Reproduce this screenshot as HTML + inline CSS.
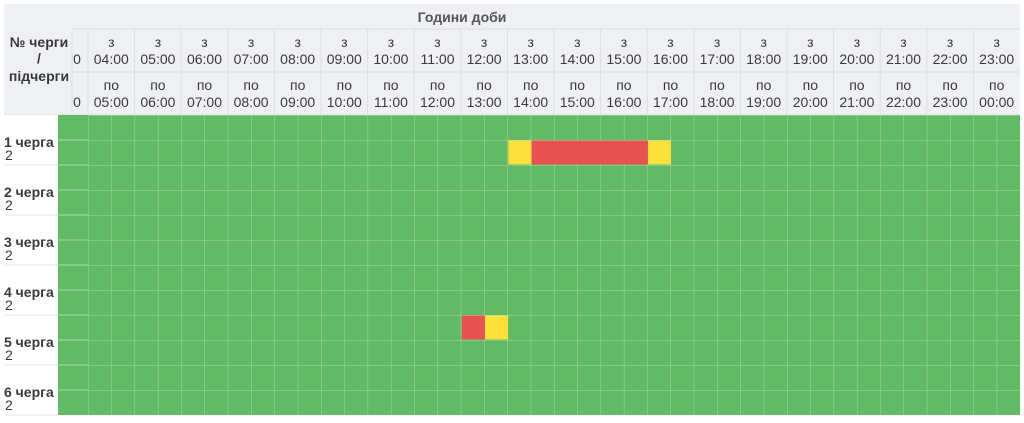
<!DOCTYPE html>
<html><head><meta charset="utf-8"><style>
body{margin:0;background:#fff;width:1024px;height:418px;overflow:hidden}
svg text{font-family:"Liberation Sans","DejaVu Sans",sans-serif;font-size:14px;fill:#3a3a3a}
</style></head><body>
<svg width="1024" height="418" xmlns="http://www.w3.org/2000/svg">
<defs>
<pattern id="g" x="88" y="115" width="23.3" height="25" patternUnits="userSpaceOnUse">
<rect width="23.3" height="25" fill="#62b966"/>
<path d="M0 0V25M0 0H23.3" stroke="#a8dca9" stroke-width="1"/>
</pattern>
</defs>
<rect x="4" y="4" width="1016" height="111" fill="#eff0f3"/>
<g stroke="#dcdee2" stroke-width="1">
<line x1="72" y1="29" x2="1020" y2="29"/>
<line x1="72" y1="72" x2="1020" y2="72"/>
<line x1="4" y1="115" x2="1020" y2="115"/>
</g>
<rect x="4" y="115" width="54" height="300" fill="#fff"/>
<g stroke="#e2e3e6"><line x1="4" y1="165" x2="58" y2="165"/><line x1="4" y1="215" x2="58" y2="215"/><line x1="4" y1="265" x2="58" y2="265"/><line x1="4" y1="315" x2="58" y2="315"/><line x1="4" y1="365" x2="58" y2="365"/><line x1="4" y1="415" x2="58" y2="415"/></g>
<rect x="58" y="115" width="30" height="300" fill="#62b966"/>
<path d="M58 140H88M58 165H88M58 190H88M58 215H88M58 240H88M58 265H88M58 290H88M58 315H88M58 340H88M58 365H88M58 390H88" stroke="#a8dca9"/>
<rect x="88" y="115" width="932" height="300" fill="url(#g)"/>
<rect x="508.4" y="140.5" width="23" height="24" fill="#fde03c"/>
<rect x="531.7" y="140.5" width="116.2" height="24" fill="#ea5252"/>
<rect x="648" y="140.5" width="23" height="24" fill="#fde03c"/>
<rect x="461.8" y="315.5" width="23" height="24" fill="#ea5252"/>
<rect x="485.1" y="315.5" width="23" height="24" fill="#fde03c"/>
<text x="462" y="22" text-anchor="middle" style="font-weight:bold;fill:#555">Години доби</text>
<g style="font-weight:bold">
<text x="39" y="47" text-anchor="middle">№ черги</text>
<text x="39" y="63" text-anchor="middle">/</text>
<text x="39" y="81" text-anchor="middle">підчерги</text>
</g>
<text x="77" y="64" text-anchor="middle">0</text>
<text x="77" y="107" text-anchor="middle">0</text>
<g text-anchor="middle">
<text x="111.3" y="47">з</text><text x="111.3" y="64">04:00</text><text x="111.3" y="90">по</text><text x="111.3" y="107">05:00</text>
<text x="157.9" y="47">з</text><text x="157.9" y="64">05:00</text><text x="157.9" y="90">по</text><text x="157.9" y="107">06:00</text>
<text x="204.5" y="47">з</text><text x="204.5" y="64">06:00</text><text x="204.5" y="90">по</text><text x="204.5" y="107">07:00</text>
<text x="251.1" y="47">з</text><text x="251.1" y="64">07:00</text><text x="251.1" y="90">по</text><text x="251.1" y="107">08:00</text>
<text x="297.7" y="47">з</text><text x="297.7" y="64">08:00</text><text x="297.7" y="90">по</text><text x="297.7" y="107">09:00</text>
<text x="344.3" y="47">з</text><text x="344.3" y="64">09:00</text><text x="344.3" y="90">по</text><text x="344.3" y="107">10:00</text>
<text x="390.9" y="47">з</text><text x="390.9" y="64">10:00</text><text x="390.9" y="90">по</text><text x="390.9" y="107">11:00</text>
<text x="437.5" y="47">з</text><text x="437.5" y="64">11:00</text><text x="437.5" y="90">по</text><text x="437.5" y="107">12:00</text>
<text x="484.1" y="47">з</text><text x="484.1" y="64">12:00</text><text x="484.1" y="90">по</text><text x="484.1" y="107">13:00</text>
<text x="530.7" y="47">з</text><text x="530.7" y="64">13:00</text><text x="530.7" y="90">по</text><text x="530.7" y="107">14:00</text>
<text x="577.3" y="47">з</text><text x="577.3" y="64">14:00</text><text x="577.3" y="90">по</text><text x="577.3" y="107">15:00</text>
<text x="623.9" y="47">з</text><text x="623.9" y="64">15:00</text><text x="623.9" y="90">по</text><text x="623.9" y="107">16:00</text>
<text x="670.5" y="47">з</text><text x="670.5" y="64">16:00</text><text x="670.5" y="90">по</text><text x="670.5" y="107">17:00</text>
<text x="717.1" y="47">з</text><text x="717.1" y="64">17:00</text><text x="717.1" y="90">по</text><text x="717.1" y="107">18:00</text>
<text x="763.7" y="47">з</text><text x="763.7" y="64">18:00</text><text x="763.7" y="90">по</text><text x="763.7" y="107">19:00</text>
<text x="810.3" y="47">з</text><text x="810.3" y="64">19:00</text><text x="810.3" y="90">по</text><text x="810.3" y="107">20:00</text>
<text x="856.9" y="47">з</text><text x="856.9" y="64">20:00</text><text x="856.9" y="90">по</text><text x="856.9" y="107">21:00</text>
<text x="903.5" y="47">з</text><text x="903.5" y="64">21:00</text><text x="903.5" y="90">по</text><text x="903.5" y="107">22:00</text>
<text x="950.1" y="47">з</text><text x="950.1" y="64">22:00</text><text x="950.1" y="90">по</text><text x="950.1" y="107">23:00</text>
<text x="996.7" y="47">з</text><text x="996.7" y="64">23:00</text><text x="996.7" y="90">по</text><text x="996.7" y="107">00:00</text>
</g>
<g style="font-weight:bold">
<text x="4" y="147">1 черга</text><text x="5" y="160" style="font-weight:normal">2</text>
<text x="4" y="197">2 черга</text><text x="5" y="210" style="font-weight:normal">2</text>
<text x="4" y="247">3 черга</text><text x="5" y="260" style="font-weight:normal">2</text>
<text x="4" y="297">4 черга</text><text x="5" y="310" style="font-weight:normal">2</text>
<text x="4" y="347">5 черга</text><text x="5" y="360" style="font-weight:normal">2</text>
<text x="4" y="397">6 черга</text><text x="5" y="410" style="font-weight:normal">2</text>
</g>
<path d="M72 29V115M88 29V115M134.6 29V115M181.2 29V115M227.8 29V115M274.4 29V115M321 29V115M367.6 29V115M414.2 29V115M460.8 29V115M507.4 29V115M554 29V115M600.6 29V115M647.2 29V115M693.8 29V115M740.4 29V115M787 29V115M833.6 29V115M880.2 29V115M926.8 29V115M973.4 29V115" stroke="#dcdee2"/>
</svg>
</body></html>
